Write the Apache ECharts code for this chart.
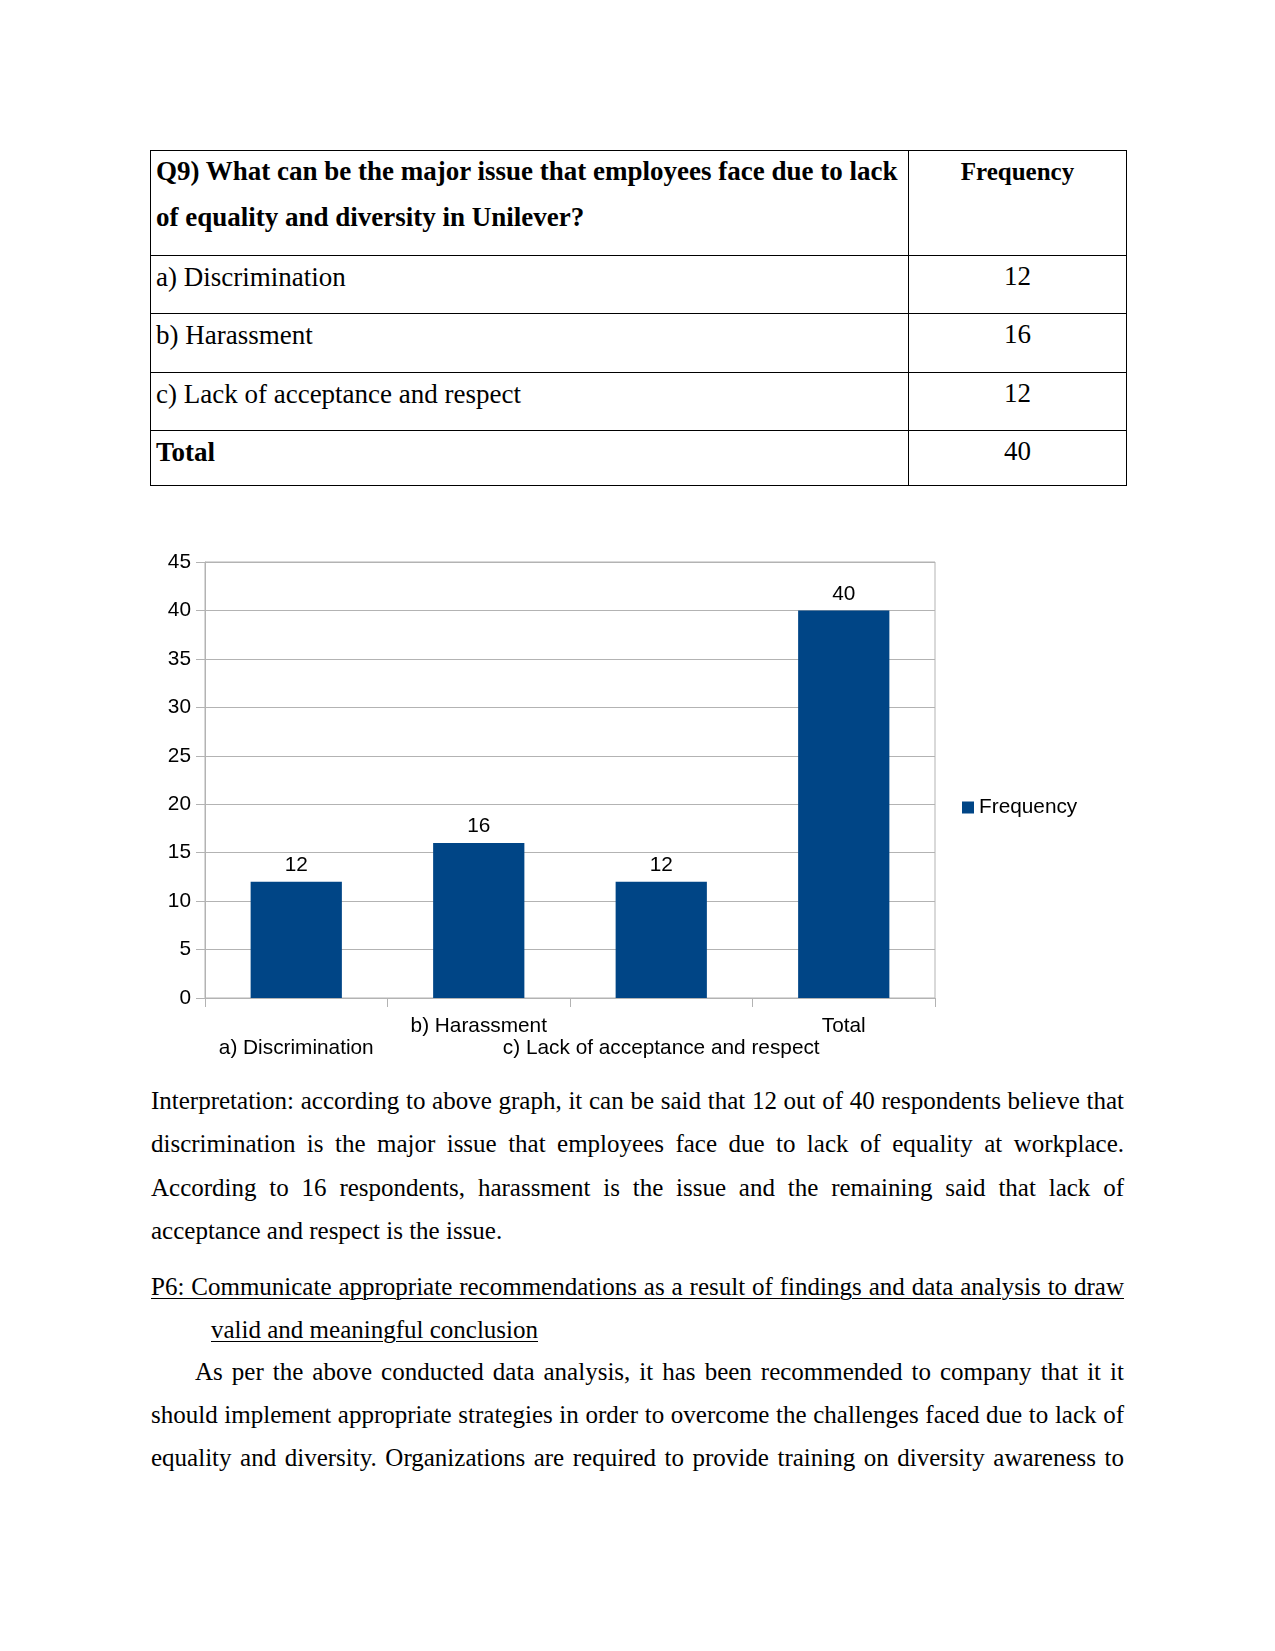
<!DOCTYPE html>
<html>
<head>
<meta charset="utf-8">
<script src="https://cdn.jsdelivr.net/npm/echarts@6/dist/echarts.min.js"></script>
<style>
  html, body { margin: 0; padding: 0; background: #fff; }
  body { width: 1275px; height: 1651px; position: relative; overflow: hidden; font-family: "Liberation Serif", "Times New Roman", serif; color: #000; }
  .hl { position: absolute; height: 1px; background: #000; }
  .vl { position: absolute; width: 1px; background: #000; }
  .tc { position: absolute; font-size: 27px; line-height: 46px; white-space: nowrap; }
  .b { font-weight: bold; }
  .num { text-align: center; width: 217px; left: 909px; }
  .ln { position: absolute; font-size: 25px; line-height: 43px; white-space: normal; text-align: justify; text-align-last: justify; }
  .last { text-align: left; text-align-last: left; white-space: nowrap; }
  .u { text-decoration: underline; text-decoration-thickness: 1px; text-underline-offset: 3px; }
</style>
</head>
<body>
<!-- Table -->
<div class="hl" style="left:150px;top:150px;width:977px;"></div>
<div class="hl" style="left:150px;top:255px;width:977px;"></div>
<div class="hl" style="left:150px;top:313px;width:977px;"></div>
<div class="hl" style="left:150px;top:372px;width:977px;"></div>
<div class="hl" style="left:150px;top:430px;width:977px;"></div>
<div class="hl" style="left:150px;top:485px;width:977px;"></div>
<div class="vl" style="left:150px;top:150px;height:336px;"></div>
<div class="vl" style="left:908px;top:150px;height:336px;"></div>
<div class="vl" style="left:1126px;top:150px;height:336px;"></div>

<div class="tc b" style="left:156px;top:148px;">Q9) What can be the major issue that employees face due to lack<br>of equality and diversity in Unilever?</div>
<div class="tc b num" style="top:148.5px;font-size:25px;">Frequency</div>
<div class="tc" style="left:156px;top:253.5px;" id="r0"></div>
<div class="tc" style="left:156px;top:311.5px;" id="r1"></div>
<div class="tc" style="left:156px;top:370.5px;" id="r2"></div>
<div class="tc b" style="left:156px;top:428.5px;">Total</div>
<div class="tc num" style="top:253px;" id="v0"></div>
<div class="tc num" style="top:311px;" id="v1"></div>
<div class="tc num" style="top:370px;" id="v2"></div>
<div class="tc num" style="top:428px;" id="v3"></div>

<!-- Chart -->
<div id="chart" style="position:absolute;left:150px;top:530px;width:975px;height:540px;"></div>

<!-- Text -->
<div class="ln" style="left:151px;width:973px;top:1078.5px;">Interpretation: according to above graph, it can be said that 12 out of 40 respondents believe that</div>
<div class="ln" style="left:151px;width:973px;top:1122px;">discrimination is the major issue that employees face due to lack of equality at workplace.</div>
<div class="ln" style="left:151px;width:973px;top:1165.5px;">According to 16 respondents, harassment is the issue and the remaining said that lack of</div>
<div class="ln last" style="left:151px;top:1208.5px;">acceptance and respect is the issue.</div>

<div class="ln u" style="left:151px;width:973px;top:1264.5px;">P6: Communicate appropriate recommendations as a result of findings and data analysis to draw</div>
<div class="ln last u" style="left:211px;top:1307.5px;">valid and meaningful conclusion</div>
<div class="ln" style="left:195px;width:929px;top:1350px;">As per the above conducted data analysis, it has been recommended to company that it it</div>
<div class="ln" style="left:151px;width:973px;top:1392.5px;">should implement appropriate strategies in order to overcome the challenges faced due to lack of</div>
<div class="ln" style="left:151px;width:973px;top:1435.5px;">equality and diversity. Organizations are required to provide training on diversity awareness to</div>

<script>
// ---- Data ----
const categories = ['a) Discrimination', 'b) Harassment', 'c) Lack of acceptance and respect', 'Total'];
const frequency = [12, 16, 12, 40];
const seriesName = 'Frequency';
const yTicks = { min: 0, max: 45, interval: 5 };

// fill the table from the data
for (let i = 0; i < 3; i++) document.getElementById('r' + i).textContent = categories[i];
for (let i = 0; i < 4; i++) document.getElementById('v' + i).textContent = String(frequency[i]);

const chart = echarts.init(document.getElementById('chart'), null, { renderer: 'canvas' });
const sans = '"Liberation Sans", Arial, sans-serif';
const gray = '#b3b3b3';
const fs = 20.8;
chart.setOption({
  animation: false,
  textStyle: { fontFamily: sans },
  grid: { left: 55, top: 32, width: 730, height: 436, show: true, borderColor: gray, borderWidth: 1, backgroundColor: 'transparent' },
  legend: {
    show: true, orient: 'vertical', left: 812, top: 267, padding: 0,
    icon: 'rect', itemWidth: 12, itemHeight: 12,
    textStyle: { fontFamily: sans, fontSize: fs, color: '#000', lineHeight: 20 },
    data: [seriesName]
  },
  xAxis: {
    type: 'category', data: categories,
    axisLine: { lineStyle: { color: gray, width: 1 } },
    axisTick: { show: true, length: 9, lineStyle: { color: gray } },
    axisLabel: {
      interval: 0, margin: 17, fontFamily: sans, fontSize: fs, color: '#000', lineHeight: 22,
      formatter: function (v, i) { return (i % 2 === 0) ? '\n' + v : v; }
    }
  },
  yAxis: {
    type: 'value', min: yTicks.min, max: yTicks.max, interval: yTicks.interval,
    axisLine: { show: true, lineStyle: { color: gray, width: 1 } },
    axisTick: { show: true, length: 9, lineStyle: { color: gray } },
    axisLabel: { margin: 14, fontFamily: sans, fontSize: fs, color: '#000' },
    splitLine: { show: true, lineStyle: { color: gray, width: 1 } }
  },
  series: [{
    name: seriesName, type: 'bar', data: frequency,
    barCategoryGap: '50%',
    itemStyle: { color: '#004586' },
    label: { show: true, position: 'top', distance: 6, fontFamily: sans, fontSize: fs, color: '#000' }
  }]
});
</script>
</body>
</html>
